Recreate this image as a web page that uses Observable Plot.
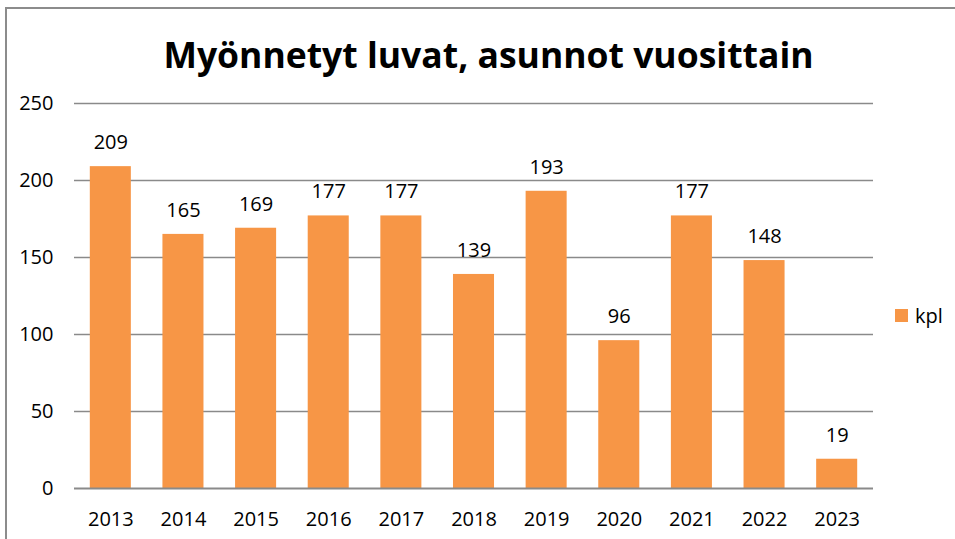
<!DOCTYPE html>
<html>
<head>
<meta charset="utf-8">
<script src="https://cdn.jsdelivr.net/npm/d3@7"></script>
<script src="https://cdn.jsdelivr.net/npm/@observablehq/plot@0.6"></script>
<style>
  html, body { margin: 0; padding: 0; background: #fff; }
  #wrap { position: relative; width: 955px; height: 539px; overflow: hidden; font-family: "Open Sans", sans-serif; }
  #frame { position: absolute; left: 5px; top: 7px; width: 1000px; height: 600px; border: 2px solid #8c8c8c; box-sizing: border-box; }
  #title { position: absolute; left: 0; top: 32px; width: 977px; text-align: center; font-size: 35.5px; font-weight: bold; color: #000; line-height: 44px; letter-spacing: 0px; }
  #chart { position: absolute; left: 0; top: 0; }
  #legend { position: absolute; left: 895px; top: 302px; font-size: 20px; color: #000; display: flex; align-items: center; }
  #legend .sw { width: 13px; height: 13px; background: #F79646; margin-right: 7px; }
</style>
</head>
<body>
<div id="wrap">
  <div id="frame"></div>
  <div id="chart"></div>
  <div id="title">Myönnetyt luvat, asunnot vuosittain</div>
  <div id="legend"><div class="sw"></div><span>kpl</span></div>
</div>
<script>
const years = ["2013","2014","2015","2016","2017","2018","2019","2020","2021","2022","2023"];
const values = [209, 165, 169, 177, 177, 139, 193, 96, 177, 148, 19];
const yTicks = [0, 50, 100, 150, 200, 250];
const seriesName = "kpl";

const data = years.map((y, i) => ({year: y, value: values[i]}));

const chart = Plot.plot({
  width: 955,
  height: 539,
  marginLeft: 74,
  marginRight: 82,
  marginTop: 103,
  marginBottom: 51,
  style: {fontFamily: "'Open Sans', sans-serif", fontSize: "20px", color: "#000", background: "transparent"},
  x: {type: "band", domain: years, paddingInner: 0.435, paddingOuter: 0.2175, round: false, label: null, tickSize: 0, tickPadding: 23},
  y: {domain: [0, 250], ticks: yTicks, label: null, tickSize: 0, tickPadding: 21},
  marks: [
    Plot.ruleY(yTicks.filter(d => d > 0), {stroke: "#8a8a8a", strokeWidth: 1.5}),
    Plot.barY(data, {x: "year", y: "value", fill: "#F79646"}),
    Plot.ruleY([0], {stroke: "#8a8a8a", strokeWidth: 2}),
    Plot.text(data, {x: "year", y: "value", text: d => String(d.value), dy: -24, fontSize: 20, fill: "#000"})
  ]
});
document.getElementById("chart").appendChild(chart);
</script>
</body>
</html>
